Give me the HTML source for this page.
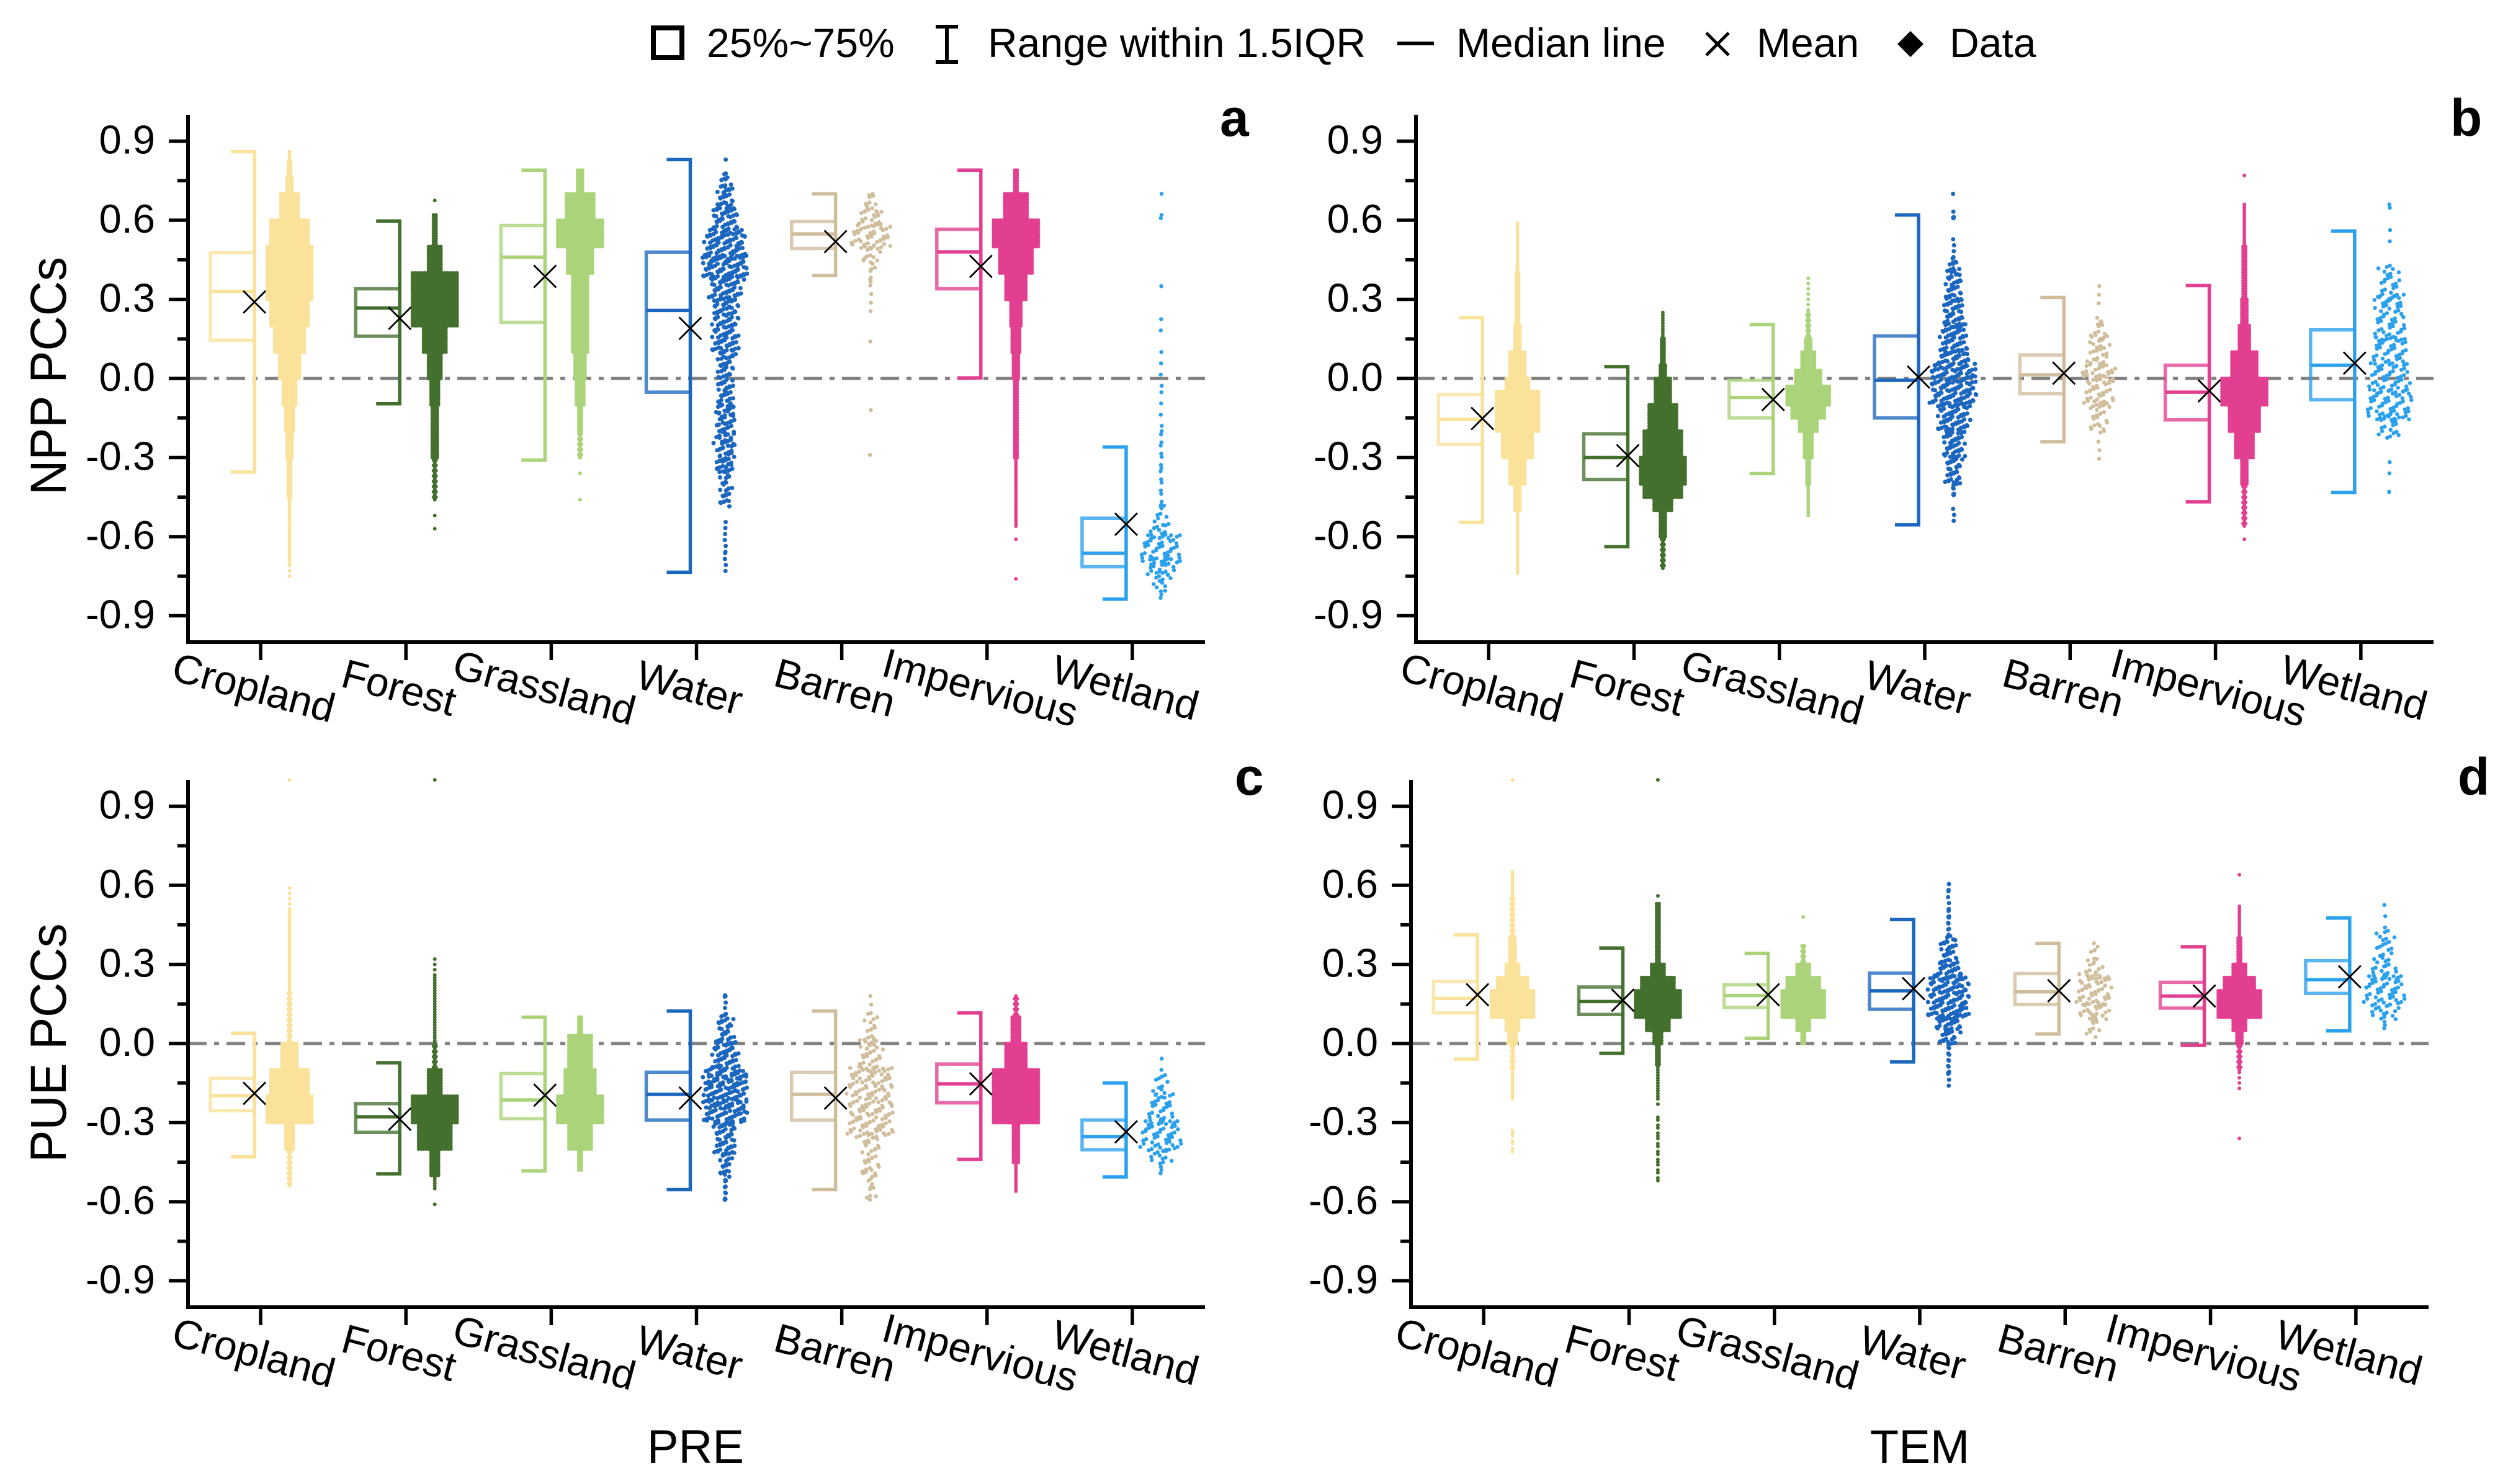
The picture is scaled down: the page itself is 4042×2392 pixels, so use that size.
<!DOCTYPE html>
<html lang="en">
<head>
<meta charset="utf-8">
<title>NPP and PUE PCCs by land cover</title>
<style>
html,body{margin:0;padding:0;background:#fff;}
svg{display:block;font-family:"Liberation Sans",Arial,sans-serif;}
</style>
</head>
<body>
<svg id="figure" xmlns="http://www.w3.org/2000/svg" width="4042" height="2392" viewBox="0 0 4042 2392">
  <rect x="0" y="0" width="4042" height="2392" fill="#fff"/>
  <g fill="#000" font-size="66">
    <rect x="1053" y="45" width="46" height="48" fill="none" stroke="#000" stroke-width="8"/>
    <text x="1139" y="92">25%~75%</text>
    <path d="M1508 43H1544M1526 43V100M1508 100H1544" fill="none" stroke="#000" stroke-width="6"/>
    <text x="1592" y="92">Range within 1.5IQR</text>
    <path d="M2252 70H2311" fill="none" stroke="#000" stroke-width="6"/>
    <text x="2347" y="92">Median line</text>
    <path d="M2750 53L2786 89M2786 53L2750 89" fill="none" stroke="#000" stroke-width="5"/>
    <text x="2831" y="92">Mean</text>
    <path d="M3079 50L3100 71L3079 92L3058 71Z" fill="#000"/>
    <text x="3142" y="92">Data</text>
  </g>
  <g font-size="84" font-weight="bold" fill="#000">
    <text x="1966" y="219">a</text>
    <text x="3949" y="219">b</text>
    <text x="1990" y="1281">c</text>
    <text x="3961" y="1281">d</text>
  </g>
  <text transform="translate(106,606) rotate(-90) scale(.95,1)" text-anchor="middle" font-size="82" fill="#000">NPP PCCs</text>
  <text transform="translate(106,1681) rotate(-90) scale(.95,1)" text-anchor="middle" font-size="82" fill="#000">PUE PCCs</text>
  <text x="1121" y="2358" text-anchor="middle" font-size="76" fill="#000">PRE</text>
  <text x="3094" y="2358" text-anchor="middle" font-size="76" fill="#000">TEM</text>
  <g id="panels"></g>
</svg>
<script>
const categories = ["Cropland","Forest","Grassland","Water","Barren","Impervious","Wetland"];
const majorTicks = [-0.9,-0.6,-0.3,0,0.3,0.6,0.9];
const majorTickLabels = ["-0.9","-0.6","-0.3","0.0","0.3","0.6","0.9"];
const minorTicks = [-0.75,-0.45,-0.15,0.15,0.45,0.75];

/* Panel a: NPP vs PRE */
const aLow    = [-0.355,-0.096,-0.31,-0.735,0.39,0.002,-0.837];
const aQ1     = [0.145,0.16,0.213,-0.052,0.493,0.34,-0.714];
const aMedian = [0.33,0.267,0.46,0.258,0.548,0.48,-0.663];
const aQ3     = [0.477,0.34,0.58,0.479,0.595,0.566,-0.53];
const aHigh   = [0.86,0.597,0.79,0.83,0.70,0.79,-0.26];
const aMean   = [0.29,0.228,0.387,0.19,0.519,0.425,-0.553];
/* Swarm bins: [low value, high value, samples per row] */
const aSwarm = [
 [[-0.76,-0.7,0.5],[-0.7,-0.45,1],[-0.45,-0.3,2],[-0.3,-0.2,3],[-0.2,-0.1,4],[-0.1,0,6],[0,0.1,9],[0.1,0.2,13],[0.2,0.3,16],[0.3,0.5,19],[0.5,0.6,16],[0.6,0.7,8],[0.7,0.76,3],[0.76,0.82,2],[0.82,0.86,1]],
 [[-0.57,-0.57,1],[-0.52,-0.52,1],[-0.46,-0.3,1.5],[-0.3,-0.1,3],[-0.1,0,4],[0,0.1,6],[0.1,0.2,10],[0.2,0.4,19],[0.4,0.5,6],[0.5,0.62,2],[0.675,0.675,1]],
 [[-0.46,-0.46,1],[-0.36,-0.36,1],[-0.3,-0.2,1.5],[-0.2,-0.1,2],[-0.1,0,4],[0,0.1,5],[0.1,0.3,7],[0.3,0.4,7],[0.4,0.5,11],[0.5,0.6,19],[0.6,0.7,12],[0.7,0.79,3]],
 [[-0.74,-0.55,0.5],[-0.48,-0.35,2],[-0.35,-0.1,3.5],[-0.1,0.1,3],[0.1,0.3,5],[0.3,0.38,6],[0.38,0.46,9],[0.46,0.56,8],[0.56,0.65,5],[0.65,0.72,3],[0.72,0.78,1.5],[0.83,0.83,1]],
 [[-0.29,-0.29,1],[-0.12,-0.12,1],[0.14,0.14,1],[0.24,0.36,0.5],[0.36,0.44,1.2],[0.44,0.5,2.5],[0.5,0.58,7],[0.58,0.64,4],[0.64,0.7,2]],
 [[-0.76,-0.76,1],[-0.61,-0.61,1],[-0.56,-0.3,1],[-0.3,0,2],[0,0.1,3],[0.1,0.2,4],[0.2,0.3,5],[0.3,0.4,9],[0.4,0.5,14],[0.5,0.6,19],[0.6,0.7,10],[0.7,0.79,2]],
 [[-0.84,-0.8,1],[-0.8,-0.75,2.5],[-0.75,-0.7,5],[-0.7,-0.6,8],[-0.6,-0.55,4],[-0.55,-0.5,2],[-0.5,-0.2,1],[-0.2,0.1,0.5],[0.15,0.25,0.4],[0.35,0.35,1],[0.6,0.61,1],[0.7,0.7,1]]
];

/* Panel b: NPP vs TEM */
const bLow    = [-0.546,-0.638,-0.361,-0.555,-0.24,-0.468,-0.432];
const bQ1     = [-0.25,-0.383,-0.15,-0.15,-0.058,-0.157,-0.081];
const bMedian = [-0.155,-0.30,-0.072,-0.007,0.014,-0.052,0.05];
const bQ3     = [-0.061,-0.21,-0.007,0.161,0.089,0.05,0.184];
const bHigh   = [0.231,0.045,0.204,0.62,0.307,0.352,0.559];
const bMean   = [-0.152,-0.293,-0.08,0.005,0.02,-0.047,0.058];
const bSwarm = [
 [[-0.74,-0.5,1],[-0.5,-0.4,3],[-0.4,-0.3,7],[-0.3,-0.2,13],[-0.2,-0.05,18],[-0.05,0,10],[0,0.1,7],[0.1,0.2,3],[0.2,0.4,2],[0.4,0.59,1]],
 [[-0.72,-0.6,1.5],[-0.6,-0.5,3],[-0.5,-0.45,8],[-0.45,-0.4,16],[-0.4,-0.3,19],[-0.3,-0.2,16],[-0.2,-0.1,12],[-0.1,0,7],[0,0.05,3],[0.05,0.15,2],[0.15,0.25,1]],
 [[-0.52,-0.4,1],[-0.4,-0.3,2],[-0.3,-0.2,4],[-0.2,-0.15,8],[-0.15,-0.1,14],[-0.1,-0.03,18],[-0.03,0.03,11],[0.03,0.1,6],[0.1,0.15,3],[0.15,0.25,1.5],[0.25,0.38,0.5]],
 [[-0.55,-0.5,0.5],[-0.45,-0.4,1],[-0.4,-0.3,3],[-0.3,-0.2,4],[-0.2,-0.1,6],[-0.1,0.05,9],[0.05,0.1,6],[0.1,0.2,5],[0.2,0.3,4],[0.3,0.4,3],[0.4,0.45,2],[0.45,0.53,0.5],[0.6,0.63,1],[0.7,0.7,1]],
 [[-0.32,-0.25,0.5],[-0.2,-0.1,3],[-0.1,0,5],[0,0.05,6],[0.05,0.15,3.5],[0.15,0.22,2],[0.27,0.35,0.5]],
 [[-0.61,-0.61,1],[-0.56,-0.4,1.5],[-0.4,-0.3,3],[-0.3,-0.2,8],[-0.2,-0.1,13],[-0.1,0,19],[0,0.1,11],[0.1,0.2,5],[0.2,0.3,3],[0.3,0.5,2],[0.5,0.66,1],[0.77,0.77,1]],
 [[-0.43,-0.43,1],[-0.38,-0.3,0.5],[-0.22,-0.15,4],[-0.15,-0.05,9],[-0.05,0.05,8],[0.05,0.15,7],[0.15,0.3,6],[0.3,0.42,4],[0.5,0.57,0.5],[0.64,0.66,1]]
];

/* Panel c: PUE vs PRE */
const cLow    = [-0.43,-0.494,-0.483,-0.554,-0.554,-0.439,-0.506];
const cQ1     = [-0.255,-0.337,-0.285,-0.29,-0.29,-0.225,-0.403];
const cMedian = [-0.198,-0.278,-0.214,-0.193,-0.193,-0.153,-0.353];
const cQ3     = [-0.132,-0.228,-0.114,-0.109,-0.109,-0.078,-0.29];
const cHigh   = [0.039,-0.073,0.10,0.123,0.123,0.116,-0.15];
const cMean   = [-0.189,-0.287,-0.196,-0.207,-0.207,-0.153,-0.335];
const cSwarm = [
 [[-0.54,-0.4,1.5],[-0.4,-0.3,4],[-0.3,-0.2,19],[-0.2,-0.1,16],[-0.1,0,7],[0,0.2,1.5],[0.2,0.5,1],[0.5,0.6,0.5],[1,1,1]],
 [[-0.61,-0.61,1],[-0.55,-0.5,1],[-0.5,-0.4,4],[-0.4,-0.3,14],[-0.3,-0.2,19],[-0.2,-0.1,6],[-0.1,0,1.5],[0,0.15,1],[0.15,0.25,1],[0.25,0.32,0.5],[1,1,1]],
 [[-0.48,-0.4,2],[-0.4,-0.3,10],[-0.3,-0.2,19],[-0.2,-0.1,13],[-0.1,0.03,10],[0.03,0.1,2]],
 [[-0.6,-0.5,1],[-0.5,-0.42,2],[-0.42,-0.3,4],[-0.3,-0.1,8.5],[-0.1,0,5],[0,0.1,3],[0.1,0.19,0.7]],
 [[-0.6,-0.5,1.5],[-0.5,-0.35,3],[-0.35,-0.1,8],[-0.1,0,4],[0,0.1,2],[0.1,0.19,0.5]],
 [[-0.56,-0.45,1],[-0.45,-0.3,3],[-0.3,-0.1,19],[-0.1,0,9],[0,0.1,4],[0.1,0.18,1.5]],
 [[-0.5,-0.45,1],[-0.45,-0.4,4],[-0.4,-0.3,8],[-0.3,-0.2,5],[-0.2,-0.12,2.5],[-0.12,-0.04,0.5]]
];

/* Panel d: PUE vs TEM */
const dLow    = [-0.059,-0.037,0.02,-0.07,0.036,-0.007,0.048];
const dQ1     = [0.116,0.11,0.137,0.13,0.148,0.134,0.19];
const dMedian = [0.171,0.159,0.182,0.20,0.196,0.18,0.242];
const dQ3     = [0.235,0.214,0.223,0.267,0.265,0.232,0.314];
const dHigh   = [0.412,0.362,0.342,0.47,0.38,0.367,0.476];
const dMean   = [0.185,0.164,0.185,0.208,0.20,0.18,0.253];
const dSwarm = [
 [[-0.42,-0.33,0.7],[-0.21,-0.1,1],[-0.1,0,1.5],[0,0.05,4],[0.05,0.1,6],[0.1,0.2,18],[0.2,0.25,13],[0.25,0.3,6],[0.3,0.4,3],[0.4,0.55,1.5],[0.55,0.65,1],[1,1,1]],
 [[-0.53,-0.28,0.7],[-0.24,-0.2,0.6],[-0.2,-0.08,1],[-0.08,0,2],[0,0.05,4],[0.05,0.1,10],[0.1,0.2,19],[0.2,0.25,14],[0.25,0.3,6],[0.3,0.53,2],[0.56,0.56,1],[1,1,1]],
 [[0,0.05,2],[0.05,0.1,6],[0.1,0.2,18],[0.2,0.25,14],[0.25,0.3,6],[0.3,0.37,1.5],[0.48,0.48,1]],
 [[-0.17,-0.12,0.5],[-0.12,0,1],[0,0.05,3],[0.05,0.1,5],[0.1,0.25,8],[0.25,0.3,5],[0.3,0.4,3],[0.4,0.5,1],[0.5,0.62,0.5]],
 [[0.03,0.1,2],[0.1,0.15,5],[0.15,0.25,6],[0.25,0.3,3],[0.3,0.38,1.5]],
 [[-0.36,-0.36,1],[-0.18,-0.1,0.5],[-0.1,0,1.5],[0,0.05,3],[0.05,0.1,6],[0.1,0.2,18],[0.2,0.25,13],[0.25,0.3,6],[0.3,0.4,2],[0.4,0.52,1],[0.64,0.64,1]],
 [[0.05,0.1,1],[0.1,0.15,5],[0.15,0.25,8],[0.25,0.3,5],[0.3,0.42,3.5],[0.42,0.52,0.5]]
];

/* Styling and layout, separate from the data */
const seriesColors = ["#fae29b","#44702e","#abd47a","#1b66bf","#d0bd9c","#e33f90","#2ba0ec"];
const rowSteps = [0.01,0.01,0.01,0.01,0.015,0.01,0.02];
const dotPitches = [4,4,4,8,9,4,8];
const dotSizes = [6,6,6,7,6.5,6,6.5];

function valuesFor(key){
  if(key==='a') return {low:aLow,q1:aQ1,median:aMedian,q3:aQ3,high:aHigh,mean:aMean,swarm:aSwarm};
  if(key==='b') return {low:bLow,q1:bQ1,median:bMedian,q3:bQ3,high:bHigh,mean:bMean,swarm:bSwarm};
  if(key==='c') return {low:cLow,q1:cQ1,median:cMedian,q3:cQ3,high:cHigh,mean:cMean,swarm:cSwarm};
  return {low:dLow,q1:dQ1,median:dMedian,q3:dQ3,high:dHigh,mean:dMean,swarm:dSwarm};
}
const panelFrames = [
  {key:'a',left:303,right:1942,top:185,bottom:1035},
  {key:'b',left:2282,right:3922,top:185,bottom:1035},
  {key:'c',left:303,right:1942,top:1257,bottom:2107},
  {key:'d',left:2274,right:3914,top:1257,bottom:2107}
];
const SVGNS='http://www.w3.org/2000/svg';
function make(tag,attrs,parent){
  const el=document.createElementNS(SVGNS,tag);
  for(const k in attrs){el.setAttribute(k,attrs[k]);}
  parent.appendChild(el);
  return el;
}
const root=document.getElementById('panels');

panelFrames.forEach(function(frame){
  const data=valuesFor(frame.key);
  const yScale=function(v){return (frame.top+frame.bottom)/2-v*(frame.bottom-frame.top)/2;};
  const xScale=function(i){return frame.left+(frame.right-frame.left)*(i+0.5)/categories.length;};
  const panel=make('g',{},root);
  
  

  const zero=make('line',{x1:frame.left,x2:frame.right,y1:yScale(0),y2:yScale(0),stroke:'#808080','stroke-width':5,'stroke-dasharray':'30 12 8 12'},panel);
  
  

  categories.forEach(function(cat,i){
    const slug=cat.toLowerCase();
    const color=seriesColors[i];
    const wx=xScale(i)-10;
    const sx=xScale(i)+46.5;
    const group=make('g',{},panel);
    
    

    const whisker=make('path',{d:'M'+(wx-38)+' '+yScale(data.high[i])+'H'+wx+'V'+yScale(data.low[i])+'H'+(wx-38),fill:'none',stroke:color,'stroke-width':5.5},group);
    
    

    const box=make('path',{d:'M'+wx+' '+yScale(data.q3[i])+'H'+(wx-71)+'V'+yScale(data.q1[i])+'H'+wx,fill:'none',stroke:color,'stroke-width':5.5,opacity:0.78},group);
    
    

    const median=make('line',{x1:wx-71,x2:wx,y1:yScale(data.median[i]),y2:yScale(data.median[i]),stroke:color,'stroke-width':5.5},group);
    
    

    let d='';
    const step=rowSteps[i],pitch=dotPitches[i],sparse=pitch>4;
    data.swarm[i].forEach(function(bin,b){
      const rows=Math.max(1,Math.round((bin[1]-bin[0])/step)+(bin[1]>bin[0]?1:0));
      let acc=0;
      for(let k=0;k<rows;k++){
        acc+=bin[2];
        const m=Math.floor(acc+1e-9);
        acc-=m;
        const v=bin[0]+k*step;
        const phase=sparse?(((k+b)*0.618)%1-0.5)*pitch*0.8:0;
        for(let j=0;j<m;j++){
          const wobX=(sparse&&m>1)?((j*7+k*13)%11-5)*0.8:0;
          const wobY=(sparse&&rows>1)?((j*5+k*3)%7-3)*1.1:0;
          const px=sx+(j-(m-1)/2)*pitch+(m>1?phase:phase*0.3)+wobX;
          const py=yScale(v)+wobY;
          d+='M'+px.toFixed(1)+' '+py.toFixed(1)+'h.01';
        }
      }
    });
    const swarm=make('path',{d:d,fill:'none',stroke:color,'stroke-width':dotSizes[i],'stroke-linecap':'round'},group);
    
    

    const my=yScale(data.mean[i]);
    const mean=make('path',{d:'M'+(wx-18)+' '+(my-18)+'L'+(wx+18)+' '+(my+18)+'M'+(wx+18)+' '+(my-18)+'L'+(wx-18)+' '+(my+18),fill:'none',stroke:'#000','stroke-width':2.8},group);
    
    
  });

  const yAxis=make('line',{x1:frame.left,x2:frame.left,y1:frame.top,y2:frame.bottom+3,stroke:'#000','stroke-width':6},panel);
  
  
  const xAxis=make('line',{x1:frame.left-3,x2:frame.right,y1:frame.bottom,y2:frame.bottom,stroke:'#000','stroke-width':6},panel);
  
  

  majorTicks.forEach(function(v,i){
    const t=make('line',{x1:frame.left-31,x2:frame.left,y1:yScale(v),y2:yScale(v),stroke:'#000','stroke-width':5.5},panel);
    
    
    const l=make('text',{x:frame.left-53,y:yScale(v)+20,'text-anchor':'end','font-size':65,fill:'#000'},panel);
    l.textContent=majorTickLabels[i];
    
    
  });
  minorTicks.forEach(function(v){
    const t=make('line',{x1:frame.left-17,x2:frame.left,y1:yScale(v),y2:yScale(v),stroke:'#000','stroke-width':5.5},panel);
    
    
  });
  categories.forEach(function(cat,i){
    const x=xScale(i);
    const t=make('line',{x1:x,x2:x,y1:frame.bottom,y2:frame.bottom+29,stroke:'#000','stroke-width':5.5},panel);
    
    
    const cx=x-11,cy=frame.bottom+73;
    const l=make('text',{transform:'translate('+cx+','+cy+') rotate(15)','text-anchor':'middle','dominant-baseline':'central','font-size':66,fill:'#000'},panel);
    l.textContent=cat;
    
    
  });
});
</script>
</body>
</html>
